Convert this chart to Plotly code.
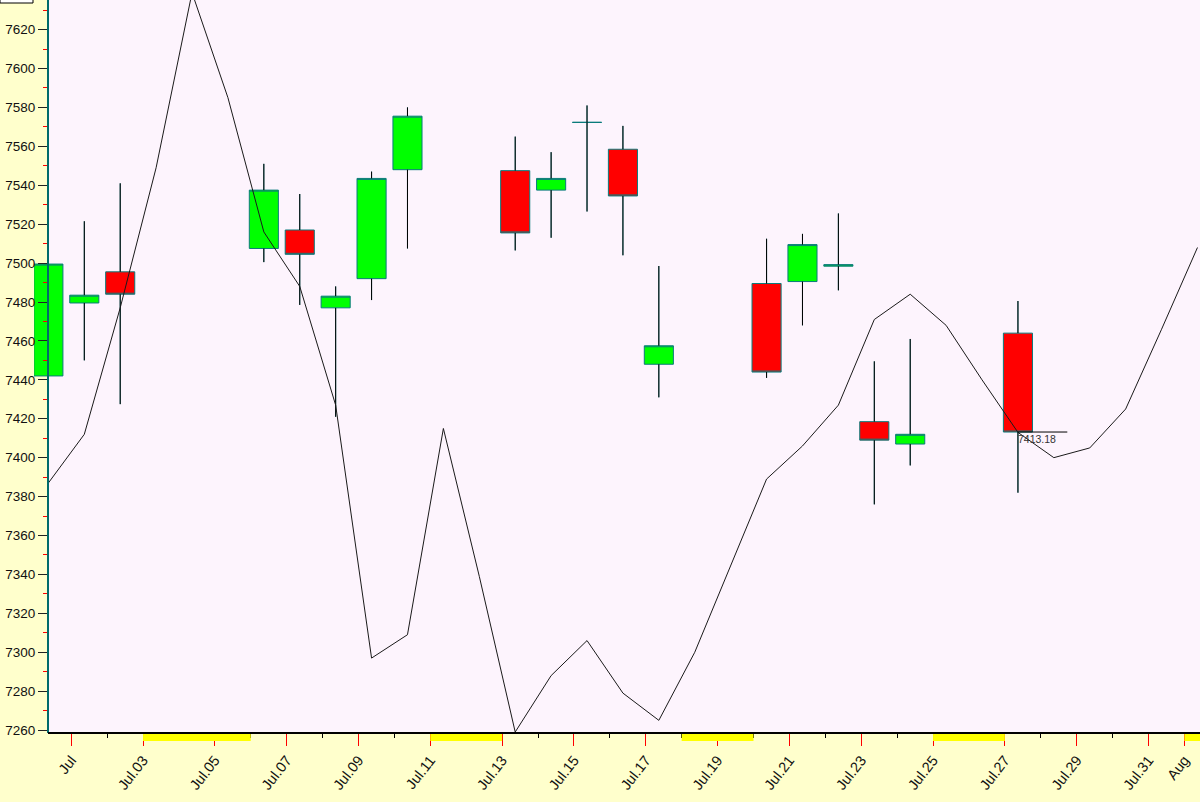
import pandas as pd
import plotly.graph_objects as go

# ---------------- data ----------------
candle_dates = ["2015-06-30", "2015-07-01", "2015-07-02", "2015-07-06", "2015-07-07",
                "2015-07-08", "2015-07-09", "2015-07-10", "2015-07-13", "2015-07-14",
                "2015-07-15", "2015-07-16", "2015-07-17", "2015-07-20", "2015-07-21",
                "2015-07-22", "2015-07-23", "2015-07-24", "2015-07-27"]
opens = [7442, 7479.5, 7495.5, 7507.5, 7517, 7477, 7492, 7548, 7547.5, 7537.5,
         7572.3, 7558.5, 7448, 7489.5, 7490.5, 7498.4, 7418.5, 7407, 7464]
highs = [7508, 7521.5, 7541, 7551, 7535.5, 7488, 7547, 7580, 7565, 7557,
         7581, 7570.5, 7498.5, 7512.5, 7515, 7525.5, 7449.5, 7461, 7480.5]
lows = [7438, 7450, 7427.5, 7500.5, 7478.5, 7421, 7481, 7507.5, 7506.5, 7513,
        7526.5, 7504, 7431, 7441, 7468, 7486, 7376, 7396, 7382]
closes = [7499.5, 7483.5, 7484, 7537.5, 7504.5, 7483, 7543.5, 7575.5, 7515.5, 7543.5,
          7572.3, 7534.5, 7457.5, 7444, 7509.5, 7499.2, 7409, 7412, 7413.18]

line_dates = ["2015-06-30", "2015-07-01", "2015-07-02", "2015-07-03", "2015-07-04",
              "2015-07-05", "2015-07-06", "2015-07-07", "2015-07-08", "2015-07-09",
              "2015-07-10", "2015-07-11", "2015-07-12", "2015-07-13", "2015-07-14",
              "2015-07-15", "2015-07-16", "2015-07-17", "2015-07-18", "2015-07-19",
              "2015-07-20", "2015-07-21", "2015-07-22", "2015-07-23", "2015-07-24",
              "2015-07-25", "2015-07-26", "2015-07-27", "2015-07-28", "2015-07-29",
              "2015-07-30", "2015-07-31", "2015-08-01"]
line_values = [7387, 7412, 7477, 7549, 7639, 7585, 7516, 7488, 7427, 7297,
               7309, 7415, 7339, 7259, 7288, 7306, 7279, 7265, 7300, 7345,
               7389, 7406, 7427, 7471, 7484, 7468, 7440, 7413, 7400, 7405,
               7425, 7466, 7508]

holidays = ["2015-07-03"]

major_tick_dates = ["2015-07-01", "2015-07-03", "2015-07-05", "2015-07-07", "2015-07-09",
                    "2015-07-11", "2015-07-13", "2015-07-15", "2015-07-17", "2015-07-19",
                    "2015-07-21", "2015-07-23", "2015-07-25", "2015-07-27", "2015-07-29",
                    "2015-07-31", "2015-08-01"]
major_tick_labels = ["Jul", "Jul.03", "Jul.05", "Jul.07", "Jul.09", "Jul.11", "Jul.13",
                     "Jul.15", "Jul.17", "Jul.19", "Jul.21", "Jul.23", "Jul.25", "Jul.27",
                     "Jul.29", "Jul.31", "Aug"]
minor_tick_dates = ["2015-07-02", "2015-07-04", "2015-07-06", "2015-07-08", "2015-07-10",
                    "2015-07-12", "2015-07-14", "2015-07-16", "2015-07-18", "2015-07-20",
                    "2015-07-22", "2015-07-24", "2015-07-26", "2015-07-28", "2015-07-30"]

# ---------------- style ----------------
W, H = 1200, 802
ML, MB = 34, 69
PLOT_W = W - ML
PLOT_H = H - MB
AXIS_OFFSET = 14  # px between plot-area edge and drawn y axis
session = pd.Timedelta(hours=8, minutes=45)
PAPER = "#FFFFCC"
PLOTBG = "#FDF4FD"
TEAL = "#0A7B7B"
FONT = "Liberation Sans, Arial, sans-serif"

cx = [pd.Timestamp(d) + session for d in candle_dates]
lx = [pd.Timestamp(d) + session for d in line_dates]

fig = go.Figure()

fig.add_trace(go.Candlestick(
    x=cx, open=opens, high=highs, low=lows, close=closes,
    increasing=dict(line=dict(color=TEAL, width=1), fillcolor="#00FF00"),
    decreasing=dict(line=dict(color=TEAL, width=1), fillcolor="#FF0000"),
    whiskerwidth=0, showlegend=False, name="OHLC"))

# black wicks outside the bodies
wx, wy = [], []
for x, o, h, l, c in zip(cx, opens, highs, lows, closes):
    top, bot = max(o, c), min(o, c)
    wx += [x, x, None, x, x, None]
    wy += [top, h, None, bot, l, None]
fig.add_trace(go.Scatter(x=wx, y=wy, mode="lines", line=dict(color="#000000", width=1),
                         hoverinfo="skip", showlegend=False))

fig.add_trace(go.Scatter(x=lx, y=line_values, mode="lines",
                         line=dict(color="#1a1a1a", width=1), showlegend=False, name="line"))

# last close marker
last_x, last_c = cx[-1], closes[-1]
fig.add_trace(go.Scatter(x=[last_x, last_x + pd.Timedelta(hours=33)], y=[last_c, last_c],
                         mode="lines", line=dict(color="#000000", width=1),
                         hoverinfo="skip", showlegend=False))
fig.add_annotation(x=last_x, y=last_c, text=f"{last_c:.2f}", showarrow=False,
                   xanchor="left", yanchor="top", xshift=-2, yshift=1,
                   font=dict(family=FONT, size=10.5, color="#333333"))

# closed-market bands under the x axis
x_start = pd.Timestamp("2015-06-29 23:08")
x_end = pd.Timestamp("2015-08-01 10:26")
days = pd.date_range("2015-06-29", "2015-08-03", freq="D")
closed = [d for d in days if d.weekday() >= 5 or d.strftime("%Y-%m-%d") in holidays]
bands = []
for d in closed:
    if bands and bands[-1][1] == d:
        bands[-1][1] = d + pd.Timedelta(days=1)
    else:
        bands.append([d, d + pd.Timedelta(days=1)])
shapes = []
for b0, b1 in bands:
    shapes.append(dict(type="rect", xref="x", yref="paper", x0=b0, x1=b1,
                       y0=-8 / PLOT_H, y1=0, fillcolor="#FFFF00", line=dict(width=0),
                       layer="above"))
# paper coloured strip left of the drawn y axis
shapes.append(dict(type="rect", xref="paper", yref="paper", x0=0, x1=AXIS_OFFSET / PLOT_W,
                   y0=0, y1=1, fillcolor=PAPER, line=dict(width=0), layer="below"))
# x axis line
shapes.append(dict(type="line", xref="paper", yref="paper", x0=AXIS_OFFSET / PLOT_W, x1=1,
                   y0=0, y1=0, line=dict(color="#000000", width=2), layer="above"))
# small box in top-left corner
shapes.append(dict(type="rect", xref="paper", yref="paper", x0=-ML / PLOT_W, x1=-1 / PLOT_W,
                   y0=1 - 3 / PLOT_H, y1=1 + 5 / PLOT_H, fillcolor="#FFFFFF",
                   line=dict(color="#000000", width=1), layer="above"))

fig.update_layout(
    template="none",
    width=W, height=H,
    margin=dict(l=ML, r=0, t=0, b=MB, pad=0),
    paper_bgcolor=PAPER, plot_bgcolor=PLOTBG,
    boxgap=0.19, boxgroupgap=0,
    showlegend=False,
    shapes=shapes,
    font=dict(family=FONT, color="#111111"),
    xaxis=dict(
        type="date", range=[x_start, x_end], rangeslider=dict(visible=False),
        showgrid=False, zeroline=False, showline=False,
        tickmode="array", tickvals=major_tick_dates, ticktext=major_tick_labels,
        ticks="outside", ticklen=12, tickwidth=1, tickcolor="#FF0000",
        tickangle=-52, tickfont=dict(family=FONT, size=14.5, color="#111111"),
        minor=dict(tickmode="array", tickvals=minor_tick_dates, ticks="outside",
                   ticklen=4, tickwidth=1, tickcolor="#000000", showgrid=False),
        automargin=False,
    ),
    yaxis=dict(
        range=[7258.5, 7635.2], anchor="free", position=AXIS_OFFSET / PLOT_W,
        showgrid=False, zeroline=False, showline=True, linecolor="#006B6B", linewidth=2,
        tickmode="linear", tick0=7260, dtick=20,
        ticks="outside", ticklen=9, tickwidth=1, tickcolor="#222222",
        tickfont=dict(family=FONT, size=13.5, color="#111111"),
        minor=dict(tickmode="linear", tick0=7260, dtick=10, ticks="outside",
                   ticklen=4, tickwidth=1, tickcolor="#FF0000", showgrid=False),
        automargin=False,
    ),
)

fig.write_html("out.html", config=dict(displayModeBar=False))
